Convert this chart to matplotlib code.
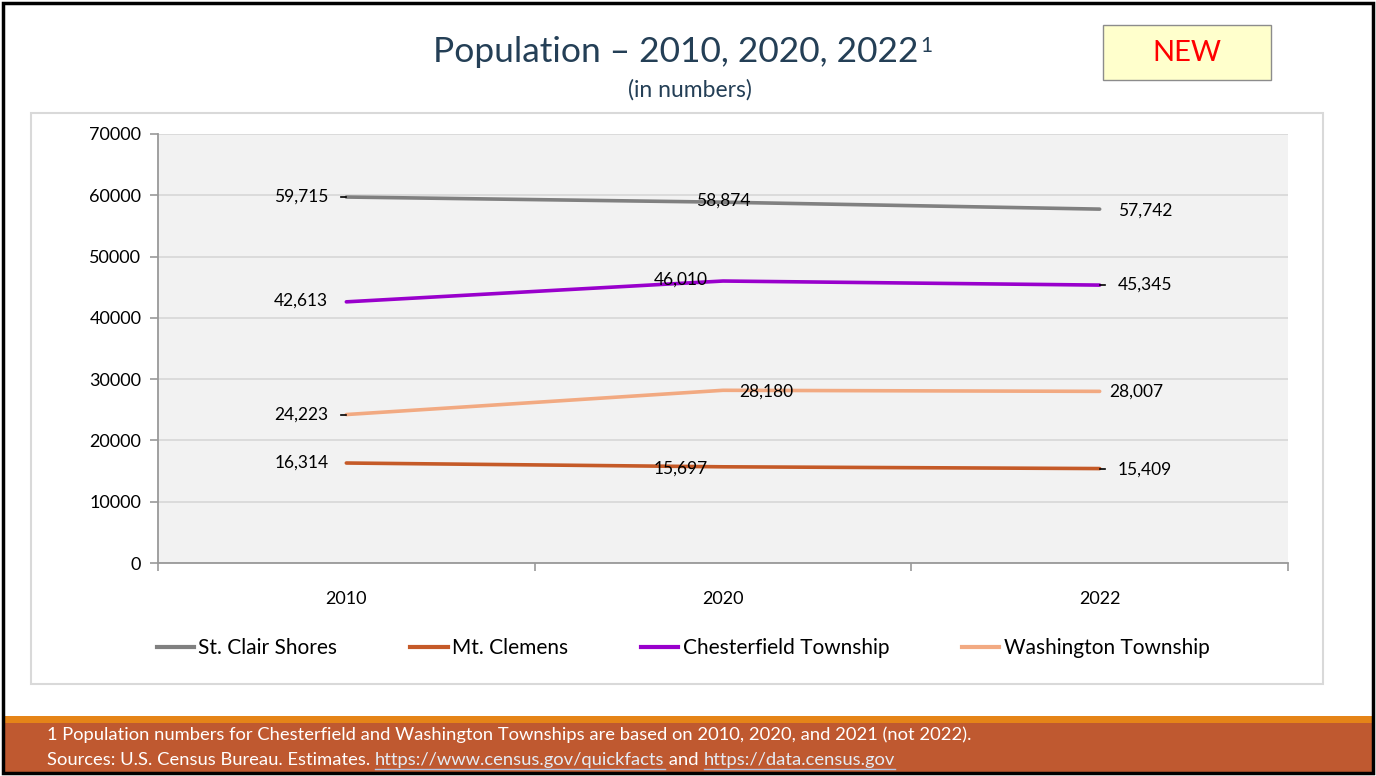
import matplotlib as mpl
import matplotlib.pyplot as plt
from matplotlib.patches import Rectangle
from matplotlib.lines import Line2D

plt.rcParams['font.family'] = ['Lato', 'DejaVu Sans']

years = ['2010', '2020', '2022']
series_names = ['St. Clair Shores', 'Mt. Clemens', 'Chesterfield Township', 'Washington Township']
st_clair = [59715, 58874, 57742]
mt_clemens = [16314, 15697, 15409]
chesterfield = [42613, 46010, 45345]
washington = [24223, 28180, 28007]
yticks = [0, 10000, 20000, 30000, 40000, 50000, 60000, 70000]

colors = ['#808080', '#c55a28', '#9900cc', '#f2aa82']
series = [st_clair, mt_clemens, chesterfield, washington]

# label offsets (points) for each series at each year, with alignment
label_pos = [
    [(-13, 0, 'right'), (0, 1, 'center'), (13, -1, 'left')],
    [(-13, 0, 'right'), (-11, -1, 'right'), (13, -1, 'left')],
    [(-13, 1, 'right'), (-11, 1, 'right'), (13, 0, 'left')],
    [(-13, 0, 'right'), (12, -1, 'left'), (7, 0, 'left')],
]
# short black leader dashes next to some labels
leaders = {(0, 0), (3, 0), (2, 2), (1, 2)}

W, H = 1376, 776
fig = plt.figure(figsize=(W / 100, H / 100), dpi=100)

def px(x0, y0, w, h):
    return [x0 / W, 1 - (y0 + h) / H, w / W, h / H]

# slide frame
fig.patches.append(Rectangle((3 / W, 3 / H), 1 - 6 / W, 1 - 6 / H, transform=fig.transFigure,
                             fill=False, edgecolor='black', lw=2.5, zorder=10))
# footer band
fig.patches.append(Rectangle((4 / W, 1 - 723 / H), 1 - 8 / W, 7 / H, transform=fig.transFigure,
                             facecolor='#e58418', edgecolor='none'))
fig.patches.append(Rectangle((4 / W, 1 - 772 / H), 1 - 8 / W, 49 / H, transform=fig.transFigure,
                             facecolor='#bf5930', edgecolor='none'))
# chart area border
fig.patches.append(Rectangle((31 / W, 1 - 684 / H), 1292 / W, 571 / H, transform=fig.transFigure,
                             fill=False, edgecolor='#d9d9d9', lw=1.5))

# NEW badge
fig.patches.append(Rectangle((1103 / W, 1 - 80 / H), 168 / W, 55 / H, transform=fig.transFigure,
                             facecolor='#ffffcc', edgecolor='#8c8c8c', lw=1))
fig.text(1187 / W, 1 - 53 / H, 'NEW', color='#ff0000', fontsize=21, ha='center', va='center')

title = fig.text(433 / W, 1 - 52 / H, 'Population \u2013 2010, 2020, 2022', color='#243f56',
                 fontsize=25.5, ha='left', va='center')
fig.text(690 / W, 1 - 90 / H, '(in numbers)', color='#243f56', fontsize=16.5,
         ha='center', va='center')

ax = fig.add_axes(px(158, 134, 1130, 429))
ax.set_facecolor('#f2f2f2')
x = list(range(len(years)))

for i, (vals, name) in enumerate(zip(series, series_names)):
    ax.plot(x, vals, color=colors[i], lw=2.6, label=name, solid_capstyle='round', zorder=3)
    for j, v in enumerate(vals):
        dx, dy, ha = label_pos[i][j]
        ax.annotate(f'{v:,}', (j, v), xytext=(dx, dy), textcoords='offset points',
                    ha=ha, va='center', fontsize=12.5, color='black', zorder=4)
        if (i, j) in leaders:
            sx = -7 if ha == 'right' else 1
            ax.plot([j + sx * 0.0019, j + (sx + 6) * 0.0019], [v, v], color='black', lw=1.2, zorder=4)

ax.set_xlim(-0.5, 2.5)
ax.set_ylim(0, 70000)
ax.set_yticks(yticks)
ax.set_yticklabels([str(t) for t in yticks], fontsize=13)
ax.set_xticks(x)
ax.set_xticklabels(years, fontsize=13)
ax.set_xticks([-0.5, 0.5, 1.5, 2.5], minor=True)
ax.tick_params(axis='x', which='major', length=0, pad=20)
ax.tick_params(axis='x', which='minor', length=6, color='#999999', width=1.2)
ax.tick_params(axis='y', length=6, color='#999999', width=1.2, pad=6)
ax.grid(axis='y', color='#d9d9d9', lw=1.3, zorder=0)
ax.set_axisbelow(True)
for s in ['top', 'right']:
    ax.spines[s].set_visible(False)
for s in ['left', 'bottom']:
    ax.spines[s].set_color('#999999')
    ax.spines[s].set_linewidth(1.3)

handles = [Line2D([0], [0], color=c, lw=3) for c in colors]
fig.legend(handles, series_names, loc='center', bbox_to_anchor=(683 / W, 1 - 648 / H),
           ncol=4, frameon=False, fontsize=15, handlelength=1.8, handletextpad=0.2,
           columnspacing=3.5)

fs = 13.2
fig.text(47 / W, 1 - 735 / H,
         '1 Population numbers for Chesterfield and Washington Townships are based on 2010, 2020, and 2021 (not 2022).',
         color='white', fontsize=fs, va='center')
t1 = fig.text(47 / W, 1 - 760 / H, 'Sources: U.S. Census Bureau. Estimates. ', color='white',
              fontsize=fs, va='center')
fig.canvas.draw()
r = fig.canvas.get_renderer()

# superscript after the title
tb = title.get_window_extent(r)
fig.text(tb.x1 / W + 2 / W, 1 - 46 / H, '1', color='#243f56', fontsize=15, ha='left', va='center')

bb = t1.get_window_extent(r)
t2 = fig.text(bb.x1 / W, 1 - 760 / H, 'https://www.census.gov/quickfacts', color='#e4ecf5',
              fontsize=fs, va='center')
bb2 = t2.get_window_extent(r)
fig.add_artist(Line2D([bb2.x0 / W, bb2.x1 / W], [1 - 769 / H] * 2, color='#b4c7e7', lw=1))
t3 = fig.text(bb2.x1 / W, 1 - 760 / H, ' and ', color='white', fontsize=fs, va='center')
bb3 = t3.get_window_extent(r)
t4 = fig.text(bb3.x1 / W, 1 - 760 / H, 'https://data.census.gov', color='#e4ecf5',
              fontsize=fs, va='center')
bb4 = t4.get_window_extent(r)
fig.add_artist(Line2D([bb4.x0 / W, bb4.x1 / W], [1 - 769 / H] * 2, color='#b4c7e7', lw=1))

fig.savefig('out.png', dpi=100)
